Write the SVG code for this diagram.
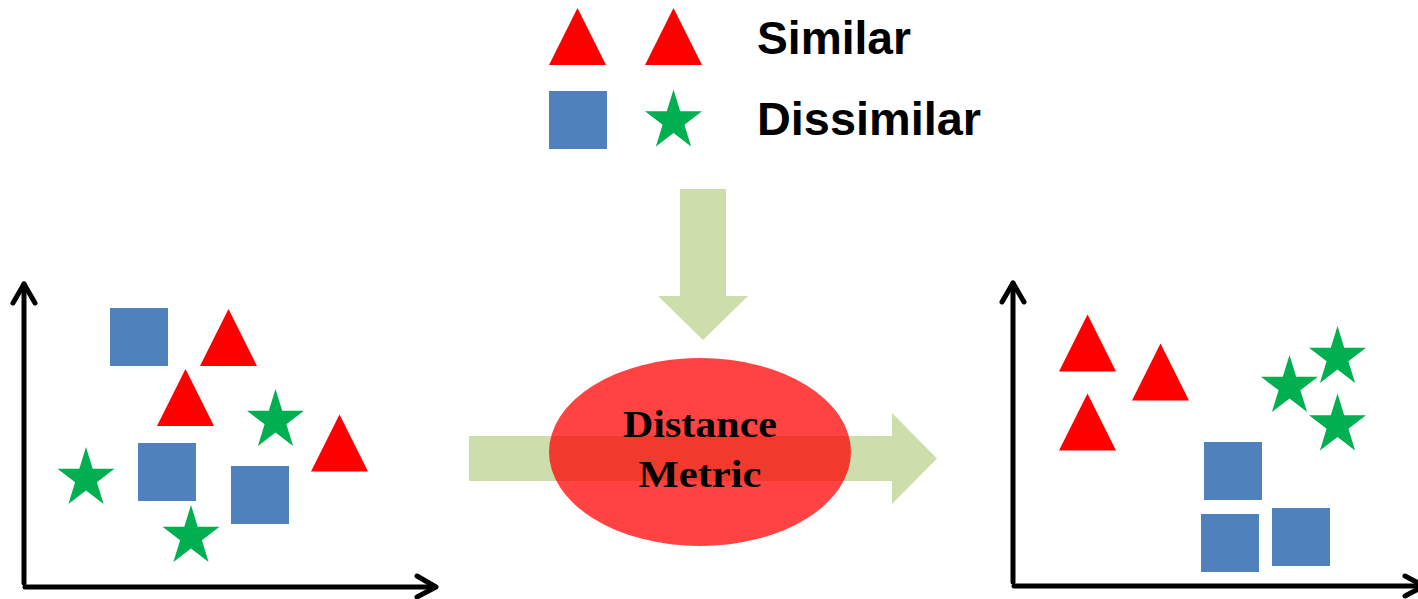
<svg xmlns="http://www.w3.org/2000/svg" xmlns:xlink="http://www.w3.org/1999/xlink" width="1418" height="599" viewBox="0 0 1418 599">
<style>
.tri{fill:#FF0000}
.sq{fill:#4F81BD}
.star{fill:#00B050}
.axis{fill:none;stroke:#000;stroke-width:5;stroke-linecap:round;stroke-linejoin:round}
.flow{fill:#CDDDAC}
.lbl{font-family:"Liberation Sans",Arial,sans-serif;font-weight:bold;font-size:46px;fill:#000}
.mtxt{font-family:"Liberation Serif","Times New Roman",serif;font-weight:bold;font-size:37px;fill:#000}
</style>
<defs>
<path id="triShape" d="M28.5,0 L57,57 L0,57 Z"/>
<path id="starShape" d="M28.5,0 L35.2,21.8 L57,21.8 L39.4,35.2 L46.1,57 L28.5,43.5 L10.9,57 L17.6,35.2 L0,21.8 L21.8,21.8 Z"/>
</defs>
<rect width="1418" height="599" fill="#fff"/>
<g id="legend">
<use href="#triShape" class="tri" transform="translate(549,8)"/>
<use href="#triShape" class="tri" transform="translate(645,8)"/>
<rect class="sq" x="549" y="91" width="58" height="58"/>
<use href="#starShape" class="star" transform="translate(645,89.5)"/>
<text class="lbl" x="757" y="53.5" textLength="154" lengthAdjust="spacingAndGlyphs">Similar</text>
<text class="lbl" x="757" y="135" textLength="224" lengthAdjust="spacingAndGlyphs">Dissimilar</text>
</g>
<g id="connectors">
<polygon class="flow" points="680,189 726,189 726,296 748,296 703,340 658,296 680,296"/>
<polygon class="flow" points="469,436 892,436 892,413 937,458.5 892,504 892,481 469,481"/>
</g>
<g id="distance-metric">
<ellipse cx="700" cy="452" rx="151" ry="94" fill="#FF0000" fill-opacity="0.74"/>
<text class="mtxt" x="700" y="437" text-anchor="middle" textLength="154" lengthAdjust="spacingAndGlyphs">Distance</text>
<text class="mtxt" x="700" y="487" text-anchor="middle" textLength="123" lengthAdjust="spacingAndGlyphs">Metric</text>
</g>
<g id="plot-before">
<polyline class="axis" points="24,583 24,284"/>
<polyline class="axis" points="13,303 24,284 35,303"/>
<polyline class="axis" points="25,587 435,587"/>
<polyline class="axis" points="417,576 436,587 417,597"/>
<rect class="sq" x="110" y="308" width="58" height="58"/>
<use href="#triShape" class="tri" transform="translate(200,309)"/>
<use href="#triShape" class="tri" transform="translate(157,369)"/>
<use href="#starShape" class="star" transform="translate(247,389)"/>
<use href="#triShape" class="tri" transform="translate(311,414.5)"/>
<use href="#starShape" class="star" transform="translate(57.5,447)"/>
<rect class="sq" x="138" y="443" width="58" height="58"/>
<rect class="sq" x="231" y="466" width="58" height="58"/>
<use href="#starShape" class="star" transform="translate(162.5,505)"/>
</g>
<g id="plot-after">
<polyline class="axis" points="1013,582 1013,283"/>
<polyline class="axis" points="1002,302 1013,283 1024,302"/>
<polyline class="axis" points="1014,586 1424,586"/>
<polyline class="axis" points="1405,576 1424,586 1405,596"/>
<use href="#triShape" class="tri" transform="translate(1059,314.5)"/>
<use href="#triShape" class="tri" transform="translate(1132,343.5)"/>
<use href="#triShape" class="tri" transform="translate(1059,393.5)"/>
<use href="#starShape" class="star" transform="translate(1261,355)"/>
<use href="#starShape" class="star" transform="translate(1309,326)"/>
<use href="#starShape" class="star" transform="translate(1309,393.5)"/>
<rect class="sq" x="1204" y="442" width="58" height="58"/>
<rect class="sq" x="1201" y="514" width="58" height="58"/>
<rect class="sq" x="1272" y="508" width="58" height="58"/>
</g>
</svg>
